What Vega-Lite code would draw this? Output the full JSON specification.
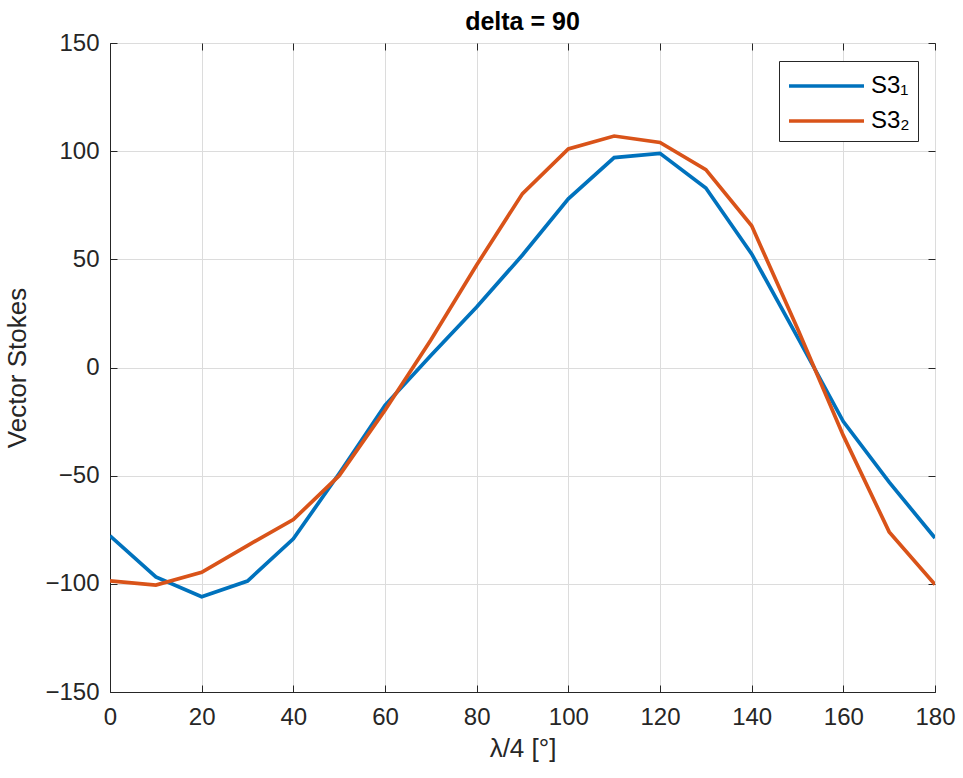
{
  "$schema": "https://vega.github.io/schema/vega-lite/v6.json",
  "width": 825,
  "height": 649,
  "autosize": "none",
  "padding": {"left": 110, "top": 43, "right": 28, "bottom": 86},
  "background": "white",
  "title": {"text": "delta = 90", "font": "Liberation Sans", "fontSize": 25, "fontWeight": "bold", "color": "#000000", "offset": -4},
  "config": {
    "view": {"stroke": "#262626", "strokeWidth": 1},
    "axis": {
      "labelFont": "Liberation Sans", "labelFontSize": 24, "labelColor": "#262626",
      "titleFont": "Liberation Sans", "titleFontSize": 26, "titleColor": "#262626", "titleFontWeight": "normal",
      "domainColor": "#262626", "tickColor": "#262626", "gridColor": "#dcdcdc", "gridWidth": 1,
      "tickSize": -7, "labelFlush": false
    }
  },
  "data": {"values": [
    {"x": 0, "v": -77.8, "s": "S3₁"}, {"x": 10, "v": -96.8, "s": "S3₁"}, {"x": 20, "v": -106, "s": "S3₁"},
    {"x": 30, "v": -98.7, "s": "S3₁"}, {"x": 40, "v": -79.2, "s": "S3₁"}, {"x": 50, "v": -49, "s": "S3₁"},
    {"x": 60, "v": -17.5, "s": "S3₁"}, {"x": 70, "v": 5.6, "s": "S3₁"}, {"x": 80, "v": 28, "s": "S3₁"},
    {"x": 90, "v": 52, "s": "S3₁"}, {"x": 100, "v": 78, "s": "S3₁"}, {"x": 110, "v": 97, "s": "S3₁"},
    {"x": 120, "v": 99, "s": "S3₁"}, {"x": 130, "v": 83, "s": "S3₁"}, {"x": 140, "v": 52.5, "s": "S3₁"},
    {"x": 150, "v": 14, "s": "S3₁"}, {"x": 160, "v": -25, "s": "S3₁"}, {"x": 170, "v": -53, "s": "S3₁"},
    {"x": 180, "v": -78.8, "s": "S3₁"},
    {"x": 0, "v": -98.6, "s": "S3₂"}, {"x": 10, "v": -100.6, "s": "S3₂"}, {"x": 20, "v": -94.7, "s": "S3₂"},
    {"x": 30, "v": -82.3, "s": "S3₂"}, {"x": 40, "v": -70.3, "s": "S3₂"}, {"x": 50, "v": -50, "s": "S3₂"},
    {"x": 60, "v": -19.8, "s": "S3₂"}, {"x": 70, "v": 12.7, "s": "S3₂"}, {"x": 80, "v": 47.4, "s": "S3₂"},
    {"x": 90, "v": 80.4, "s": "S3₂"}, {"x": 100, "v": 101, "s": "S3₂"}, {"x": 110, "v": 107, "s": "S3₂"},
    {"x": 120, "v": 104, "s": "S3₂"}, {"x": 130, "v": 91.5, "s": "S3₂"}, {"x": 140, "v": 65.5, "s": "S3₂"},
    {"x": 150, "v": 18, "s": "S3₂"}, {"x": 160, "v": -31.5, "s": "S3₂"}, {"x": 170, "v": -76, "s": "S3₂"},
    {"x": 180, "v": -100.3, "s": "S3₂"}
  ]},
  "layer": [
    {
      "mark": {"type": "line", "strokeWidth": 3.7, "clip": true},
      "encoding": {
        "x": {"field": "x", "type": "quantitative", "scale": {"domain": [0, 180], "nice": false},
          "axis": {"orient": "bottom", "values": [0,20,40,60,80,100,120,140,160,180], "title": "λ/4 [°]", "titlePadding": 6, "labelPadding": 20}},
        "y": {"field": "v", "type": "quantitative", "scale": {"domain": [-150, 150], "nice": false},
          "axis": {"orient": "left", "values": [-150,-100,-50,0,50,100,150], "title": "Vector Stokes", "titlePadding": 14, "labelPadding": 18}},
        "color": {"field": "s", "type": "nominal",
          "scale": {"domain": ["S3₁", "S3₂"], "range": ["#0072BD", "#D95319"]},
          "legend": {"title": null, "orient": "none", "legendX": 669, "legendY": 18,
            "symbolType": "M-1,0H4", "symbolSize": 900, "symbolStrokeWidth": 3.7,
            "labelFont": "Liberation Sans", "labelFontSize": 24, "labelColor": "#000000",
            "strokeColor": "#262626", "fillColor": "white", "padding": 8, "rowPadding": 6, "labelOffset": 50}}
      }
    },
    {
      "mark": {"type": "line", "strokeWidth": 0, "opacity": 0},
      "encoding": {
        "x": {"field": "x", "type": "quantitative", "scale": {"domain": [0, 180], "nice": false},
          "axis": {"orient": "top", "values": [0,20,40,60,80,100,120,140,160,180], "labels": false, "title": null, "grid": false, "domain": false}},
        "y": {"field": "v", "type": "quantitative", "scale": {"domain": [-150, 150], "nice": false},
          "axis": {"orient": "right", "values": [-150,-100,-50,0,50,100,150], "labels": false, "title": null, "grid": false, "domain": false}}
      }
    }
  ],
  "resolve": {"axis": {"x": "independent", "y": "independent"}}
}
